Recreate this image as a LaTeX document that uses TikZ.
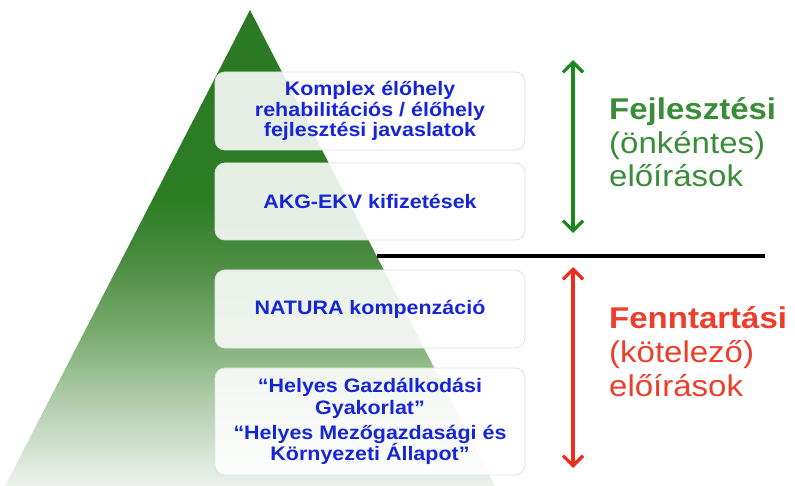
\documentclass[tikz,border=0pt]{standalone}
\usepackage{fontspec}
\setmainfont{Liberation Sans}[FakeStretch=1.1]
\usetikzlibrary{arrows.meta}
\definecolor{pbot}{RGB}{238,242,238}
\definecolor{pthree}{RGB}{175,205,170}
\definecolor{ptwo}{RGB}{120,170,110}
\definecolor{pone}{RGB}{75,140,65}
\definecolor{pzero}{RGB}{45,125,37}
\definecolor{ptop}{RGB}{42,120,36}
\definecolor{boxtext}{RGB}{22,38,215}
\definecolor{boxline}{RGB}{218,228,226}
\definecolor{gtext}{RGB}{58,140,56}
\definecolor{rtext}{RGB}{236,62,42}
\definecolor{garr}{RGB}{28,135,28}
\definecolor{rarr}{RGB}{236,45,28}
\pgfdeclareverticalshading{pyrshade}{100bp}{color(0bp)=(pbot); color(25bp)=(pbot); color(34bp)=(pthree); color(41.4bp)=(ptwo); color(48.7bp)=(pone); color(55bp)=(pzero); color(75bp)=(ptop); color(100bp)=(ptop)}
\tikzset{
  layer/.style={draw=boxline, line width=0.8pt, fill=white, fill opacity=0.88, text opacity=1,
    rounded corners=10pt, minimum width=310pt, inner sep=0pt, align=center,
    text=boxtext, font=\fontsize{19.5}{20.5}\selectfont\bfseries},
  sidetext/.style={anchor=base west, inner sep=0pt, font=\fontsize{30}{33}\selectfont},
  dblarrow/.style={line width=3.2pt, {Straight Barb[length=10pt,width=20pt]}-{Straight Barb[length=10pt,width=20pt]}}
}
\begin{document}
\begin{tikzpicture}[x=1pt,y=-1pt]
\useasboundingbox (0,0) rectangle (795,486);
% pyramid
\coordinate (apex) at (250,10);
\coordinate (bl) at (5,486);
\coordinate (br) at (495,486);
\shade[shading=pyrshade] (apex) -- (br) -- (bl) -- cycle;
% layers
\node[layer, minimum height=78pt] (l1) at (370,111)
  {Komplex élőhely\\rehabilitációs / élőhely\\fejlesztési javaslatok};
\node[layer, minimum height=77pt] (l2) at (370,201.5) {AKG-EKV kifizetések};
\node[layer, minimum height=78pt] (l3) at (370,309) {NATURA kompenzáció};
\node[layer, minimum height=107pt, font=\fontsize{19.5}{21.5}\selectfont\bfseries] (l4) at (370,421.5)
  {“Helyes Gazdálkodási\\Gyakorlat”\\[3.5pt]“Helyes Mezőgazdasági és\\Környezeti Állapot”};
% divider
\coordinate (d1) at (377,256);
\coordinate (d2) at (765,256);
\draw[line width=4.6pt] (d1) -- (d2);
% arrows
\coordinate (ga) at (573,60);
\coordinate (gb) at (573,233);
\coordinate (ra) at (573,267);
\coordinate (rb) at (573,468);
\draw[dblarrow, draw=garr] (ga) -- (gb);
\draw[dblarrow, draw=rarr] (ra) -- (rb);
% side texts
\node[sidetext, text=gtext, font=\fontsize{30}{33}\selectfont\bfseries] (f1) at (609,120) {Fejlesztési};
\node[sidetext, text=gtext] (f2) at (609,153.5) {(önkéntes)};
\node[sidetext, text=gtext] (f3) at (609,187) {előírások};
\node[sidetext, text=rtext, font=\fontsize{30}{33}\selectfont\bfseries] (k1) at (609,328.5) {Fenntartási};
\node[sidetext, text=rtext] (k2) at (609,362) {(kötelező)};
\node[sidetext, text=rtext] (k3) at (609,396) {előírások};
\end{tikzpicture}
\end{document}
